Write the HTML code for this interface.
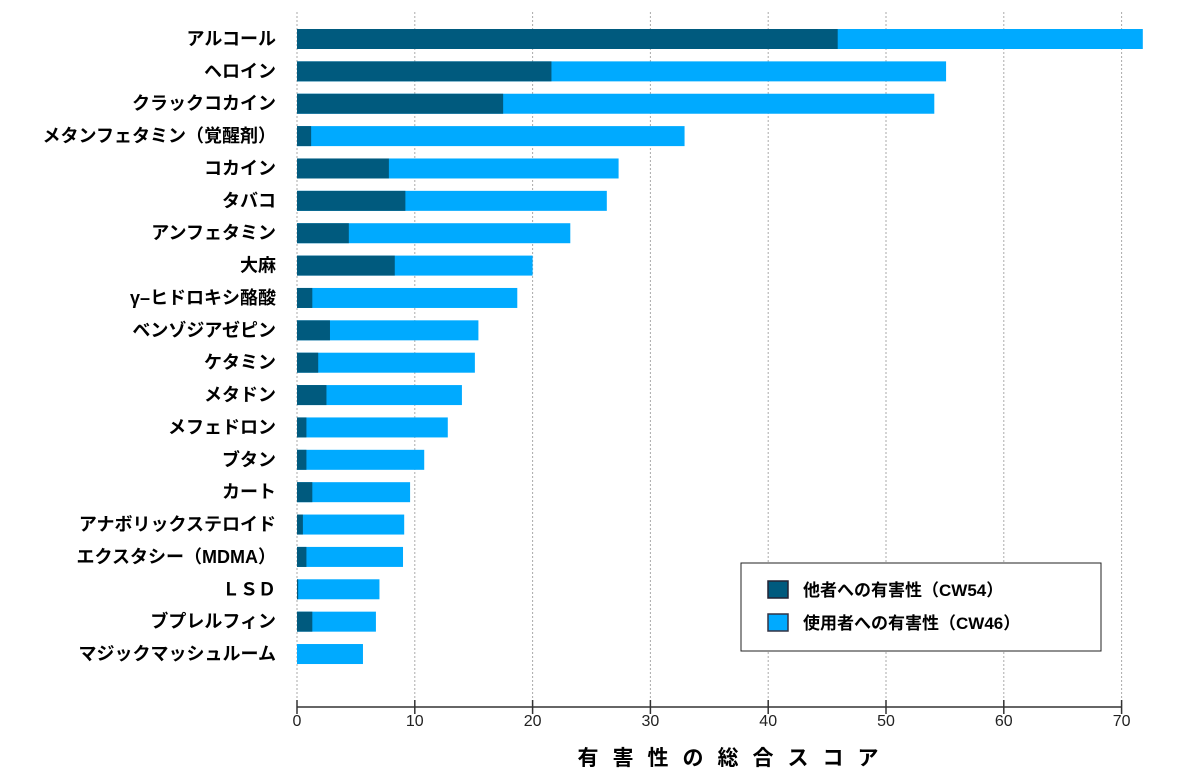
<!DOCTYPE html>
<html><head><meta charset="utf-8"><style>
body{margin:0;background:#fff;}
svg text{font-family:"Liberation Sans","Noto Sans CJK JP",sans-serif;}
</style></head><body>
<svg width="1200" height="776" xmlns="http://www.w3.org/2000/svg">
<g id="grid" stroke="#aaa" stroke-dasharray="2,2" stroke-width="1"></g>
<g id="bars"></g>
<g id="labels" font-size="18" font-weight="bold" text-anchor="end" fill="#000"></g>
<line x1="297" y1="707" x2="1122" y2="707" stroke="#333" stroke-width="1.5"/>
<g id="ticks" font-size="16" text-anchor="middle" fill="#222"></g>
<text x="735" y="765" font-size="21" font-weight="bold" text-anchor="middle" letter-spacing="14">有害性の総合スコア</text>
<rect x="741" y="563" width="360" height="88" fill="#fff" stroke="#222" stroke-width="1"/>
<rect x="768" y="581" width="20" height="17" fill="#005a7e" stroke="#223" stroke-width="1.5"/>
<rect x="768" y="614" width="20" height="17" fill="#00aaff" stroke="#334" stroke-width="1.5"/>
<text x="803" y="596" font-size="17" font-weight="bold">他者への有害性（CW54）</text>
<text x="803" y="629" font-size="17" font-weight="bold">使用者への有害性（CW46）</text>
</svg>
<script>
const d=[["アルコール",45.9,71.8],["ヘロイン",21.6,55.1],["クラックコカイン",17.5,54.1],["メタンフェタミン（覚醒剤）",1.2,32.9],["コカイン",7.8,27.3],["タバコ",9.2,26.3],["アンフェタミン",4.4,23.2],["大麻",8.3,20],["γ–ヒドロキシ酪酸",1.3,18.7],["ベンゾジアゼピン",2.8,15.4],["ケタミン",1.8,15.1],["メタドン",2.5,14],["メフェドロン",0.8,12.8],["ブタン",0.8,10.8],["カート",1.3,9.6],["アナボリックステロイド",0.5,9.1],["エクスタシー（MDMA）",0.8,9],["ＬＳＤ",0.1,7],["ブプレルフィン",1.3,6.7],["マジックマッシュルーム",0,5.6]];
const ns="http://www.w3.org/2000/svg",s=11.78,x0=297;
function el(p,t,a,txt){const e=document.createElementNS(ns,t);for(const k in a)e.setAttribute(k,a[k]);if(txt!=null)e.textContent=txt;document.getElementById(p).appendChild(e);}
for(let i=0;i<=7;i++){const x=x0+i*117.8;el("grid","line",{x1:x,y1:12,x2:x,y2:707});el("ticks","line",{x1:x,y1:700,x2:x,y2:714,stroke:"#333","stroke-width":1.5});el("ticks","text",{x:x,y:726},i*10);}
d.forEach((r,i)=>{const cy=39+i*32.37;el("bars","rect",{x:x0,y:cy-10,width:r[2]*s,height:20,fill:"#00aaff"});el("bars","rect",{x:x0,y:cy-10,width:r[1]*s,height:20,fill:"#005a7e"});el("labels","text",{x:276,y:cy+6},r[0]);});
</script>
</body></html>
